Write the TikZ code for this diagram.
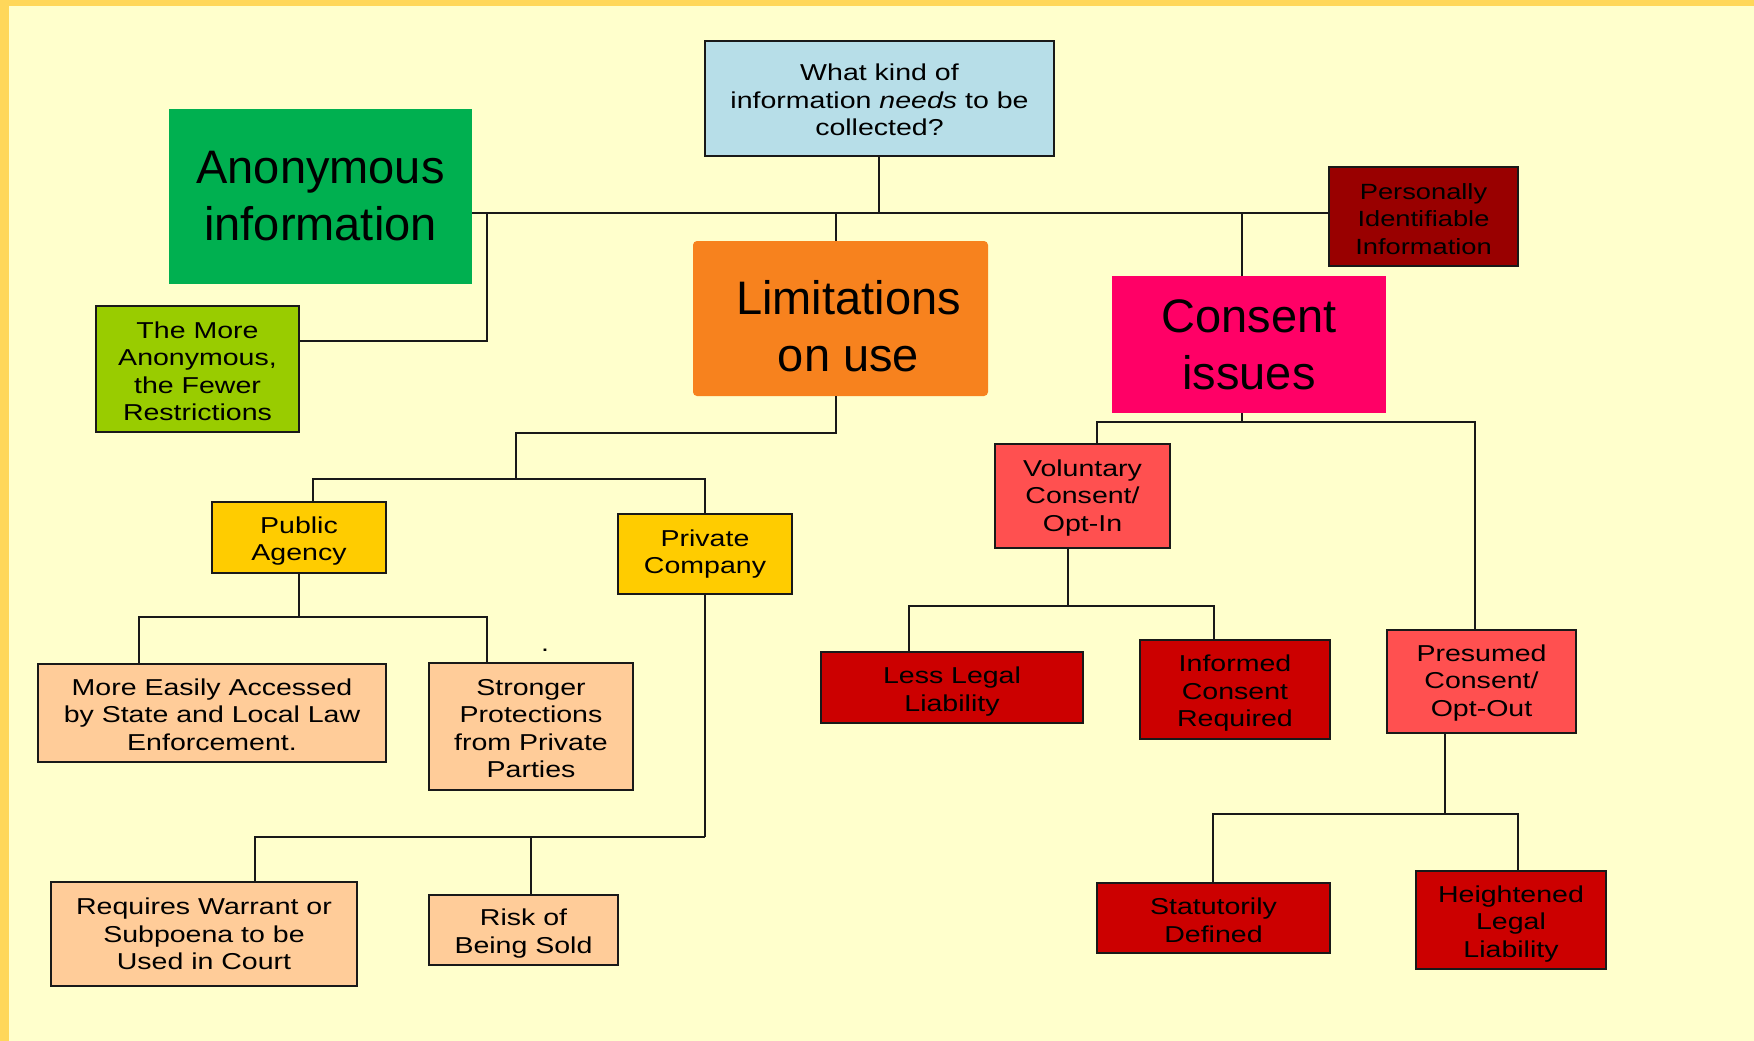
\documentclass[tikz,border=0pt]{standalone}
\usepackage{fontspec}
\setmainfont{Liberation Sans}
\newfontfamily\widefont[FakeStretch=1.24]{Liberation Sans}
% raises the first line's height so the text block sits a little lower
\newcommand\firstline[1][24pt]{\rule{0pt}{#1}}

\definecolor{paper}{HTML}{FFFFCC}
\definecolor{frame}{HTML}{FFD75A}
\definecolor{qblue}{HTML}{B7DEE8}
\definecolor{anongreen}{HTML}{00B050}
\definecolor{lime}{HTML}{99CC00}
\definecolor{limorange}{HTML}{F7821E}
\definecolor{consentpink}{HTML}{FF0066}
\definecolor{piired}{HTML}{990000}
\definecolor{amber}{HTML}{FFCC00}
\definecolor{peach}{HTML}{FFCC99}
\definecolor{salmon}{HTML}{FF5050}
\definecolor{crimson}{HTML}{CC0000}

\tikzset{
  box/.style={draw=black!90, line width=1.6pt, inner sep=0pt, align=center, text=black},
  plain/.style={inner sep=0pt, align=center, text=black},
  small/.style={font=\widefont\fontsize{23}{27.5}\selectfont},
  smaller/.style={font=\widefont\fontsize{22}{27.5}\selectfont},
  big/.style={font=\fontsize{47}{57}\selectfont},
  link/.style={draw=black!90, line width=1.6pt},
}

\begin{document}
\begin{tikzpicture}[x=1pt,y=-1pt]
  % page background and frame
  \fill[paper] (0,0) rectangle (1754,1041);
  \fill[frame] (0,0) rectangle (9,1041);
  \fill[frame] (0,0) rectangle (1754,6);
  \useasboundingbox (0,0) rectangle (1754,1041);

  % ---- nodes ----
  \node[box, small, fill=qblue, minimum width=349pt, minimum height=115pt] (top) at (879.5,98.5)
    {\firstline[20pt]What kind of\\information \textit{needs} to be\\collected?};
  \node[plain, big, fill=anongreen, minimum width=303pt, minimum height=175pt] (anon) at (320.5,196.5)
    {Anonymous\\information};
  \node[box, small, fill=lime, minimum width=203pt, minimum height=126pt] (more) at (197.5,369)
    {\firstline[21pt]The More\\Anonymous,\\the Fewer\\Restrictions};
  \node[box, smaller, fill=piired, minimum width=189pt, minimum height=99pt] (pii) at (1423.5,216.5)
    {\firstline[21pt]Personally\\Identifiable\\Information};
  \node[plain, big, fill=limorange, rounded corners=4pt, minimum width=295pt, minimum height=155pt] (lim) at (840.5,318.5)
    {\firstline[50pt]\hspace*{16pt}Limitations\\\hspace*{16pt}on use};
  \node[plain, big, fill=consentpink, minimum width=274pt, minimum height=137pt] (cons) at (1249,344.5)
    {Consent\\issues};

  \node[box, small, fill=amber, minimum width=174pt, minimum height=71pt] (pub) at (299,537.5)
    {\firstline Public\\Agency};
  \node[box, small, fill=amber, minimum width=174pt, minimum height=80pt] (prv) at (705,554)
    {Private\\Company};
  \node[box, small, fill=peach, minimum width=348pt, minimum height=98pt] (easy) at (212,713)
    {\firstline[20pt]More Easily Accessed\\by State and Local Law\\Enforcement.};
  \node[box, small, fill=peach, minimum width=204pt, minimum height=127pt] (strong) at (531,726.5)
    {\firstline[20pt]Stronger\\Protections\\from Private\\Parties};
  \node[plain, font=\widefont\fontsize{23}{27}\selectfont] (dot) at (545,650) {.};
  \node[box, small, fill=peach, minimum width=306pt, minimum height=104pt] (warrant) at (204,934)
    {Requires Warrant or\\Subpoena to be\\Used in Court};
  \node[box, small, fill=peach, minimum width=189pt, minimum height=70pt] (risk) at (523.5,930)
    {\firstline[24pt]Risk of\\Being Sold};

  \node[box, small, fill=salmon, minimum width=175pt, minimum height=104pt] (vol) at (1082.5,496)
    {\firstline[20pt]Voluntary\\Consent/\\Opt-In};
  \node[box, small, fill=salmon, minimum width=189pt, minimum height=103pt] (pres) at (1481.5,681.5)
    {\firstline[19pt]Presumed\\Consent/\\Opt-Out};
  \node[box, small, fill=crimson, minimum width=262pt, minimum height=71pt] (less) at (952,687.5)
    {\firstline[25pt]Less Legal\\Liability};
  \node[box, small, fill=crimson, minimum width=190pt, minimum height=99pt] (inf) at (1235,689.5)
    {\firstline Informed\\Consent\\Required};
  \node[box, small, fill=crimson, minimum width=233pt, minimum height=70pt] (stat) at (1213.5,918)
    {\firstline[21pt]Statutorily\\Defined};
  \node[box, small, fill=crimson, minimum width=190pt, minimum height=98pt] (heig) at (1511,920)
    {\firstline Heightened\\Legal\\Liability};

  % ---- connector points ----
  \coordinate (hub) at (879,213);
  \coordinate (moreDrop) at (487,341);
  \coordinate (limIn) at (836,241);
  \coordinate (consIn) at (1242,276);
  \coordinate (limOut) at (836,396);
  \coordinate (limJ) at (516,433);
  \coordinate (limJ2) at (516,479);
  \coordinate (pubIn) at (313,502);
  \coordinate (pubJ) at (299,617);
  \coordinate (easyIn) at (139,664);
  \coordinate (strongIn) at (487,663);
  \coordinate (prvJ) at (705,837);
  \coordinate (warIn) at (255,882);
  \coordinate (riskIn) at (531,895);
  \coordinate (consOut) at (1242,413);
  \coordinate (consJ) at (1242,422);
  \coordinate (volIn) at (1097,444);
  \coordinate (presIn) at (1475,630);
  \coordinate (volOut) at (1068,548);
  \coordinate (volJ) at (1068,606);
  \coordinate (lessIn) at (909,652);
  \coordinate (infIn) at (1214,640);
  \coordinate (presOut) at (1445,733);
  \coordinate (presJ) at (1445,814);
  \coordinate (statIn) at (1213,883);
  \coordinate (heigIn) at (1518,871);

  % ---- connectors ----
  % first level
  \draw[link] (top.south -| hub) -- (hub);
  \draw[link] (anon.east |- hub) -- (pii.west |- hub);
  \draw[link] (moreDrop |- hub) |- (more.east |- moreDrop);
  \draw[link] (limIn |- hub) -- (limIn);
  \draw[link] (consIn |- hub) -- (consIn);
  % limitations on use
  \draw[link] (limOut) |- (limJ) -- (limJ2);
  \draw[link] (pubIn) |- (limJ2) -| (prv.north);
  % public agency
  \draw[link] (pub.south) -- (pubJ);
  \draw[link] (easyIn) |- (pubJ) -| (strongIn);
  % private company
  \draw[link] (prv.south) -- (prvJ);
  \draw[link] (warIn) |- (prvJ);
  \draw[link] (riskIn) -- (riskIn |- prvJ);
  % consent issues
  \draw[link] (consOut) -- (consJ);
  \draw[link] (volIn) |- (consJ) -| (presIn);
  % voluntary consent
  \draw[link] (volOut) -- (volJ);
  \draw[link] (lessIn) |- (volJ) -| (infIn);
  % presumed consent
  \draw[link] (presOut) -- (presJ);
  \draw[link] (statIn) |- (presJ) -| (heigIn);
\end{tikzpicture}
\end{document}
